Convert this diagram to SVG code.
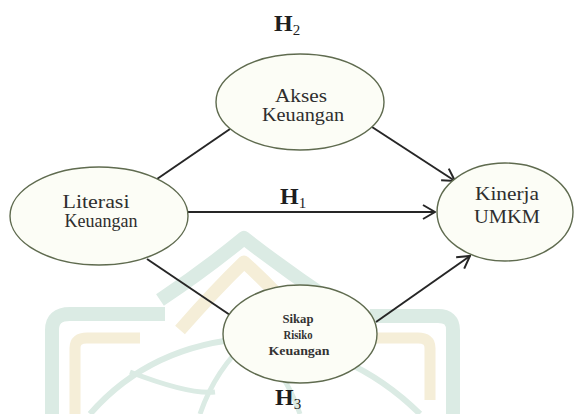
<svg xmlns="http://www.w3.org/2000/svg" width="574" height="414" viewBox="0 0 574 414">
  <style>
    .node ellipse { fill: #fcfdf6; stroke: #5f6b4f; stroke-width: 1.4; }
    .lbl { font-family: "Liberation Serif", "Times New Roman", serif; font-size: 19px; fill: #2e2e2e; text-anchor: middle; }
    .small { font-family: "Liberation Serif", "Times New Roman", serif; font-size: 12px; font-weight: bold; fill: #333; text-anchor: middle; }
    .hyp { font-family: "Liberation Serif", "Times New Roman", serif; font-size: 24px; font-weight: bold; fill: #1e1e1e; }
    .hyp tspan { font-size: 15px; font-weight: normal; }
    .edge { stroke: #262626; stroke-width: 2; fill: none; }
    .wm-g { fill: none; stroke: #dbebe4; stroke-linejoin: round; }
    .wm-y { fill: none; stroke: #f5eed8; stroke-linejoin: round; }
  </style>
  <defs>
    <marker id="arrow" viewBox="0 0 14 16" refX="13" refY="8" markerWidth="14" markerHeight="16" markerUnits="userSpaceOnUse" orient="auto">
      <path d="M1,1 L13,8 L1,15" fill="none" stroke="#262626" stroke-width="2"/>
    </marker>
  </defs>

  <rect x="0" y="0" width="574" height="414" fill="#ffffff"/>

  <g id="watermark">
    <path class="wm-g" stroke-width="14" d="M160 300 Q205 270 244 238 Q285 270 330 300"/>
    <path class="wm-y" stroke-width="13" d="M180 330 Q215 290 244 262 Q275 290 310 330"/>
    <path class="wm-g" stroke-width="14" d="M52 414 L52 330 Q52 314 70 314 L165 314"/>
    <path class="wm-y" stroke-width="11" d="M75 414 L75 348 Q75 338 87 338 L140 338"/>
    <path class="wm-g" stroke-width="14" d="M453 414 L453 330 Q453 316 438 316 L370 316"/>
    <path class="wm-y" stroke-width="11" d="M430 400 L430 348 Q430 338 418 338 L365 338"/>
    <path class="wm-g" stroke-width="6" d="M90 414 Q150 345 250 338 Q350 345 420 414"/>
    <path class="wm-g" stroke-width="5" d="M200 414 Q215 370 250 338 Q285 370 300 414"/>
    <path class="wm-g" stroke-width="5" d="M130 372 Q190 395 215 392"/>
  </g>

  <g id="connectors">
    <path class="edge" d="M157 179 L230 129"/>
    <path class="edge" d="M372 127 L455 181" marker-end="url(#arrow)"/>
    <path class="edge" d="M188 212 L435 212" marker-end="url(#arrow)"/>
    <path class="edge" d="M147 259 L230 315"/>
    <path class="edge" d="M376 322 L470 256" marker-end="url(#arrow)"/>
  </g>

  <g id="akses" class="node">
    <ellipse cx="300" cy="102" rx="84" ry="48"/>
    <text class="lbl" x="301" y="102" textLength="52" lengthAdjust="spacingAndGlyphs">Akses</text>
    <text class="lbl" x="303" y="121" textLength="82" lengthAdjust="spacingAndGlyphs">Keuangan</text>
  </g>

  <g id="literasi" class="node">
    <ellipse cx="99" cy="216" rx="89" ry="49"/>
    <text class="lbl" x="96" y="208" textLength="67" lengthAdjust="spacingAndGlyphs">Literasi</text>
    <text class="lbl" x="101" y="227" textLength="73" lengthAdjust="spacingAndGlyphs">Keuangan</text>
  </g>

  <g id="kinerja" class="node">
    <ellipse cx="505" cy="212" rx="68" ry="49"/>
    <text class="lbl" x="507" y="200" textLength="64" lengthAdjust="spacingAndGlyphs">Kinerja</text>
    <text class="lbl" x="507" y="223" textLength="66" lengthAdjust="spacingAndGlyphs">UMKM</text>
  </g>

  <g id="sikap" class="node">
    <ellipse cx="300" cy="334" rx="77" ry="49"/>
    <text class="small" x="298" y="323" textLength="31" lengthAdjust="spacingAndGlyphs">Sikap</text>
    <text class="small" x="298" y="339" textLength="29" lengthAdjust="spacingAndGlyphs">Risiko</text>
    <text class="small" x="299" y="355" textLength="61" lengthAdjust="spacingAndGlyphs">Keuangan</text>
  </g>

  <g id="labels">
    <text class="hyp" x="274" y="31">H<tspan dy="4">2</tspan></text>
    <text class="hyp" x="280" y="204">H<tspan dy="4">1</tspan></text>
    <text class="hyp" x="275" y="405">H<tspan dy="4">3</tspan></text>
  </g>
</svg>
